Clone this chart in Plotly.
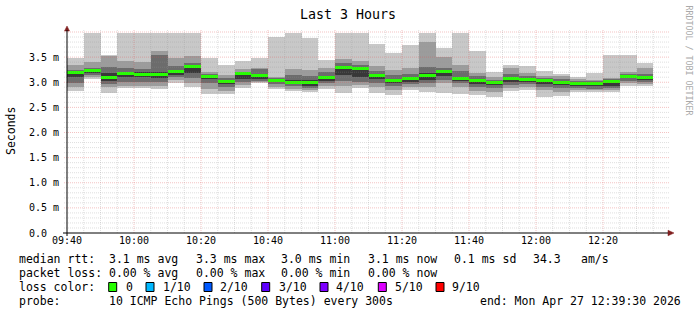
import plotly.graph_objects as go
import pandas as pd

# ---------------- data (seconds in ms units, displayed with " m" suffix) ----------------
bar_start = pd.date_range("2026-04-27 09:40", periods=35, freq="5min")

ping_max = [3.49, 3.98, 3.55, 3.98, 3.98, 3.98, 3.98, 3.98, 3.49, 3.34, 3.42, 3.48, 3.91, 3.98, 3.89,
            3.445, 3.98, 3.98, 3.76, 3.58, 3.745, 3.98, 3.68, 3.98, 3.62, 3.20, 3.345, 3.33, 3.23, 3.17,
            3.11, 3.18, 3.55, 3.55, 3.38]
band2_hi = [3.34, 3.41, 3.52, 3.42, 3.40, 3.62, 3.48, 3.52, 3.20, 3.15, 3.26, 3.29, 3.11, 3.26, 3.24,
            3.29, 3.46, 3.42, 3.33, 3.25, 3.29, 3.81, 3.51, 3.34, 3.18, 3.10, 3.28, 3.18, 3.13, 3.12,
            3.07, 3.05, 3.09, 3.20, 3.29]
band3_hi = [3.25, 3.29, 3.30, 3.28, 3.27, 3.55, 3.33, 3.38, 3.16, 3.08, 3.21, 3.26, 3.08, 3.15, 3.12,
            3.20, 3.38, 3.35, 3.22, 3.15, 3.17, 3.31, 3.28, 3.22, 3.12, 3.05, 3.16, 3.12, 3.08, 3.06,
            3.03, 3.02, 3.06, 3.16, 3.16]
band4_hi = [3.22, 3.26, 3.18, 3.20, 3.20, 3.20, 3.24, 3.33, 3.13, 3.03, 3.18, 3.16, 3.05, 3.05, 3.05,
            3.13, 3.32, 3.29, 3.15, 3.07, 3.11, 3.18, 3.23, 3.10, 3.06, 3.02, 3.10, 3.08, 3.05, 3.02,
            3.00, 3.00, 3.03, 3.13, 3.12]
median_rtt = [3.19, 3.225, 3.10, 3.165, 3.16, 3.145, 3.21, 3.31, 3.115, 3.01, 3.165, 3.125, 3.035, 3.005, 3.005,
              3.10, 3.30, 3.265, 3.125, 3.035, 3.08, 3.125, 3.205, 3.07, 3.03, 2.995, 3.08, 3.06, 3.03, 2.995,
              2.98, 2.975, 3.015, 3.115, 3.095]
band4_lo = [3.10, 3.18, 3.03, 3.10, 3.10, 3.08, 3.15, 3.19, 3.06, 2.97, 3.07, 3.06, 3.00, 2.96, 2.93,
            3.03, 3.14, 3.10, 3.06, 2.98, 3.01, 3.05, 3.12, 3.03, 2.96, 2.95, 3.00, 3.01, 2.97, 2.95,
            2.93, 2.92, 2.92, 3.08, 3.05]
band3_lo = [2.98, 3.14, 2.97, 3.01, 3.01, 3.00, 3.10, 3.08, 2.98, 2.91, 3.01, 3.02, 2.96, 2.92, 2.895,
            2.98, 3.02, 3.00, 2.98, 2.92, 2.96, 2.99, 3.04, 2.98, 2.90, 2.88, 2.95, 2.96, 2.91, 2.88,
            2.88, 2.87, 2.88, 3.03, 3.00]
band2_lo = [2.90, 3.10, 2.90, 2.93, 2.93, 2.93, 3.04, 2.98, 2.87, 2.83, 2.95, 3.00, 2.91, 2.87, 2.85,
            2.92, 2.92, 2.94, 2.90, 2.84, 2.90, 2.90, 2.98, 2.90, 2.82, 2.80, 2.89, 2.90, 2.84, 2.80,
            2.84, 2.84, 2.84, 2.98, 2.96]
ping_min = [2.82, 3.07, 2.79, 2.89, 2.89, 2.86, 2.98, 2.91, 2.77, 2.77, 2.895, 2.98, 2.865, 2.83, 2.80,
            2.86, 2.78, 2.88, 2.795, 2.75, 2.85, 2.815, 2.78, 2.77, 2.74, 2.715, 2.835, 2.85, 2.71, 2.72,
            2.80, 2.80, 2.815, 2.93, 2.93]

y_tickvals = [0.0, 0.5, 1.0, 1.5, 2.0, 2.5, 3.0, 3.5]
y_ticktext = ["0.0\u00a0\u00a0", "0.5 m", "1.0 m", "1.5 m", "2.0 m", "2.5 m", "3.0 m", "3.5 m"]
x_ticks = pd.date_range("2026-04-27 09:40", "2026-04-27 12:20", freq="20min")

loss_labels = ["0", "1/10", "2/10", "3/10", "4/10", "5/10", "9/10"]
loss_colors = ["#26ff00", "#00b8ff", "#0059ff", "#5e00ff", "#7e00ff", "#dd00ff", "#ff0000"]

# ---------------- figure ----------------
W, H = 697, 315
L, R, T, B = 67, 670, 30, 233
FONT = "DejaVu Sans Mono"


def px(x):
    return (x - L) / (R - L)


def py(y):
    return (B - y) / (B - T)


centers = bar_start + pd.Timedelta(minutes=2.5)
width_ms = 5 * 60 * 1000

fig = go.Figure()
layers = [
    (ping_min, ping_max, "#c8c8c8"),
    (band2_lo, band2_hi, "#9c9c9c"),
    (band3_lo, band3_hi, "#6c6c6c"),
    (band4_lo, band4_hi, "#383838"),
]
for lo, hi, col in layers:
    fig.add_trace(go.Bar(x=centers, base=lo, y=[h - l for l, h in zip(lo, hi)], width=width_ms,
                         marker=dict(color=col, line=dict(width=0)), hoverinfo="skip", showlegend=False))

band = 0.06
fig.add_trace(go.Bar(x=centers, base=[m - band / 2 for m in median_rtt], y=[band] * len(median_rtt),
                     width=width_ms, marker=dict(color=loss_colors[0], line=dict(width=0)),
                     hoverinfo="skip", showlegend=False))

shapes = []
minor_col = "rgba(150,150,150,0.30)"
major_col = "rgba(222,79,79,0.35)"
# vertical grid
vt = pd.date_range("2026-04-27 09:45", "2026-04-27 12:35", freq="5min")
for t in vt:
    major = (t.minute % 20 == 0)
    shapes.append(dict(type="line", xref="x", yref="paper", x0=t, x1=t, y0=0, y1=1, layer="above",
                       line=dict(color=major_col if major else minor_col, width=1, dash="1px,1px")))
# horizontal grid
for i in range(1, 41):
    v = i / 10
    major = (i % 5 == 0)
    shapes.append(dict(type="line", xref="paper", yref="y", x0=px(64), x1=1, y0=v, y1=v, layer="above",
                       line=dict(color=major_col if major else minor_col, width=1, dash="1px,1px")))
# arrows
arrow_col = "#801f1f"
shapes.append(dict(type="path", xref="paper", yref="paper", layer="above",
                   path=f"M {px(64.5)},{py(31)} L {px(67)},{py(26)} L {px(69.5)},{py(31)} Z",
                   fillcolor=arrow_col, line=dict(color=arrow_col, width=0.5)))
shapes.append(dict(type="path", xref="paper", yref="paper", layer="above",
                   path=f"M {px(668)},{py(230.2)} L {px(674)},{py(233)} L {px(668)},{py(235.8)} Z",
                   fillcolor=arrow_col, line=dict(color=arrow_col, width=0.5)))
shapes.append(dict(type="line", xref="paper", yref="paper", x0=px(63), x1=px(668), y0=0, y1=0,
                   layer="above", line=dict(color="black", width=1)))
shapes.append(dict(type="line", xref="paper", yref="paper", x0=0, x1=0, y0=py(236), y1=py(30),
                   layer="above", line=dict(color="black", width=1)))

annotations = []


def txt(x, y, s, size=11.5, color="black", xanchor="left", angle=0):
    annotations.append(dict(xref="paper", yref="paper", x=px(x), y=py(y), text=s, showarrow=False,
                            xanchor=xanchor, yanchor="middle", textangle=angle,
                            font=dict(family=FONT, size=size, color=color)))


txt(348, 14, "Last 3 Hours", size=13.3, xanchor="center")
txt(11, 131, "Seconds", size=11.5, xanchor="center", angle=-90)
txt(688.5, 60, "RRDTOOL / TOBI OETIKER", size=8.3, color="#aaaaaa", xanchor="center", angle=90)

# legend lines
y1, y2, y3, y4 = 258.5, 272.5, 286.5, 300.5
txt(16.7, y1, "median rtt:")
for x, s in [(107, "3.1 ms avg"), (194, "3.3 ms max"), (279.3, "3.0 ms min"), (366, "3.1 ms now"),
             (451.7, "0.1 ms sd"), (530.7, "34.3"), (579.3, "am/s")]:
    txt(x, y1, s)
txt(16.7, y2, "packet loss:")
for x, s in [(107.3, "0.00 % avg"), (194, "0.00 % max"), (279.3, "0.00 % min"), (366, "0.00 % now")]:
    txt(x, y2, s)
txt(16.7, y3, "loss color:")
sq_x = [108.7, 146, 204, 261.7, 320, 378.3, 436]
lab_x = [124, 160.7, 218.3, 276.7, 334.3, 392.7, 450]
for sx, lx, lab, col in zip(sq_x, lab_x, loss_labels, loss_colors):
    shapes.append(dict(type="rect", xref="paper", yref="paper", x0=px(sx), x1=px(sx + 8),
                       y0=py(291.5), y1=py(282.5), fillcolor=col, line=dict(color="black", width=1)))
    txt(lx, y3, lab)
txt(16.7, y4, "probe:")
txt(107, y4, "10 ICMP Echo Pings (500 Bytes) every 300s")
txt(478.3, y4, "end: Mon Apr 27 12:39:30 2026")

fig.update_layout(
    width=W, height=H,
    margin=dict(l=L, r=W - R, t=T, b=H - B, pad=0),
    paper_bgcolor="white", plot_bgcolor="white",
    barmode="overlay", bargap=0,
    showlegend=False,
    shapes=shapes, annotations=annotations,
    xaxis=dict(type="date", range=["2026-04-27 09:40", "2026-04-27 12:40"],
               tickvals=list(x_ticks), tickformat="%H:%M", showgrid=False, zeroline=False,
               showline=False, ticks="", tickfont=dict(family=FONT, size=10, color="black"),
               fixedrange=True),
    yaxis=dict(range=[0, 4.04], tickvals=y_tickvals, ticktext=y_ticktext, showgrid=False,
               zeroline=False, showline=False, ticks="", ticklabelstandoff=7,
               tickfont=dict(family=FONT, size=10, color="black"), fixedrange=True),
)

fig.write_html("out.html")
